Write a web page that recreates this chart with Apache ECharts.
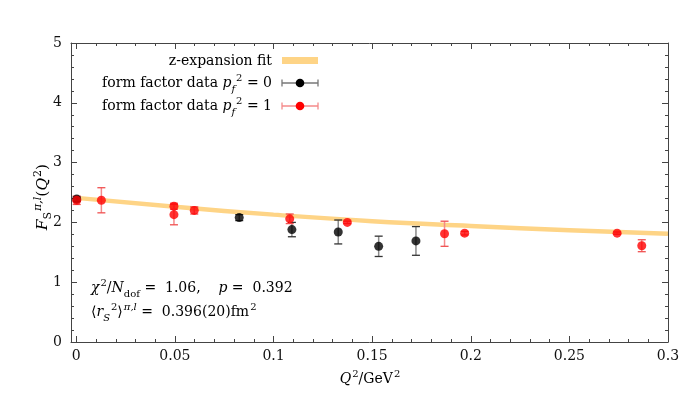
<!DOCTYPE html>
<html>
<head>
<meta charset="utf-8">
<script src="https://cdn.jsdelivr.net/npm/echarts@6/dist/echarts.min.js"></script>
<style>
  html, body { margin: 0; padding: 0; background: #fff; }
  #chart { width: 693px; height: 416px; }
</style>
</head>
<body>
<div id="chart"></div>
<script>
// 数据：p_f^2 = 0
const q2Set0 = [0.0002, 0.0826, 0.1093, 0.1328, 0.1533, 0.1722];
const ffSet0 = [2.39, 2.08, 1.88, 1.84, 1.60, 1.69];
const errSet0 = [0.04, 0.05, 0.12, 0.20, 0.17, 0.24];

// 数据：p_f^2 = 1
const q2Set1 = [0.0002, 0.0127, 0.0495, 0.0495, 0.0598, 0.1082, 0.1374, 0.1867, 0.1969, 0.2742, 0.2867];
const ffSet1 = [2.37, 2.37, 2.27, 2.13, 2.20, 2.06, 2.00, 1.81, 1.82, 1.82, 1.61];
const errSet1 = [0.07, 0.21, 0.05, 0.17, 0.06, 0.08, 0.02, 0.21, 0.03, 0.02, 0.10];

// z-expansion 拟合曲线
const fitQ2 = [0, 0.05, 0.1, 0.15, 0.2, 0.25, 0.3];
const fitVals = [2.41, 2.26, 2.13, 2.02, 1.94, 1.87, 1.81];

// 刻度
const xMajorTicks = [0, 0.05, 0.1, 0.15, 0.2, 0.25, 0.3];
const xMinorTicks = [0.01, 0.02, 0.03, 0.04, 0.06, 0.07, 0.08, 0.09, 0.11, 0.12, 0.13, 0.14,
  0.16, 0.17, 0.18, 0.19, 0.21, 0.22, 0.23, 0.24, 0.26, 0.27, 0.28, 0.29];

const FONT = '"DejaVu Serif", "Liberation Serif", serif';
const frameColor = '#444';
const xMin = -0.0027, xMax = 0.3;

const chart = echarts.init(document.getElementById('chart'));

const makeErrorBar = (color, capColor) => (params, api) => {
  const x = api.value(0), y = api.value(1), e = api.value(2);
  const top = api.coord([x, y + e]);
  const bot = api.coord([x, y - e]);
  const cap = 4;
  return {
    type: 'group',
    children: [
      { type: 'line', shape: { x1: top[0], y1: top[1], x2: bot[0], y2: bot[1] }, style: { stroke: color, lineWidth: 1.5 } },
      { type: 'line', shape: { x1: top[0] - cap, y1: top[1], x2: top[0] + cap, y2: top[1] }, style: { stroke: capColor, lineWidth: 1.3 } },
      { type: 'line', shape: { x1: bot[0] - cap, y1: bot[1], x2: bot[0] + cap, y2: bot[1] }, style: { stroke: capColor, lineWidth: 1.3 } }
    ]
  };
};

const zip3 = (a, b, c) => a.map((v, i) => [v, b[i], c[i]]);

const xAxisBase = (position, ticks, len, showLabel, showLine) => ({
  type: 'value', min: xMin, max: xMax, position,
  axisLine: { show: showLine, onZero: false, lineStyle: { color: frameColor, width: 1 } },
  axisTick: { show: true, inside: true, length: len, customValues: ticks, lineStyle: { color: frameColor } },
  axisLabel: showLabel
    ? { show: true, customValues: xMajorTicks, margin: 7, color: '#111', fontFamily: FONT, fontSize: 14 }
    : { show: false },
  splitLine: { show: false }
});

const yAxisBase = (position, showLabel) => ({
  type: 'value', min: 0, max: 5, interval: 1, position,
  axisLine: { show: true, onZero: false, lineStyle: { color: frameColor, width: 1 } },
  axisTick: { show: true, inside: true, length: 6, lineStyle: { color: frameColor } },
  minorTick: { show: true, splitNumber: 5, length: 3, lineStyle: { color: frameColor } },
  axisLabel: showLabel ? { show: true, margin: 9, color: '#111', fontFamily: FONT, fontSize: 14 } : { show: false },
  splitLine: { show: false }
});

const makeRich = (size) => {
  const small = Math.round(size * 0.72);
  return {
    r: { fontFamily: FONT, fontSize: size, color: '#111', lineHeight: 22, verticalAlign: 'middle' },
    i: { fontFamily: FONT, fontSize: size, fontStyle: 'italic', color: '#111', lineHeight: 22, verticalAlign: 'middle' },
    sup: { fontFamily: FONT, fontSize: small, color: '#111', lineHeight: 22, verticalAlign: 'top', padding: [1, 0, 0, 1] },
    supi: { fontFamily: FONT, fontSize: small, fontStyle: 'italic', color: '#111', lineHeight: 22, verticalAlign: 'top', padding: [1, 0, 0, 1] },
    sub: { fontFamily: FONT, fontSize: small, color: '#111', lineHeight: 22, verticalAlign: 'bottom' },
    subi: { fontFamily: FONT, fontSize: small, fontStyle: 'italic', color: '#111', lineHeight: 22, verticalAlign: 'bottom' }
  };
};

const textEl = (x, y, text, align, rotation, size) => ({
  type: 'text', x, y, rotation: rotation || 0, z: 10,
  style: { text, rich: makeRich(size || 14), align, verticalAlign: 'middle', textAlign: align, textVerticalAlign: 'middle' }
});

// 图例（自绘）
const legendX1 = 282, legendX2 = 318;
const legendErr = (y, lineColor, dotColor) => [
  { type: 'line', shape: { x1: legendX1, y1: y, x2: legendX2, y2: y }, style: { stroke: lineColor, lineWidth: 1.5 }, z: 10 },
  { type: 'line', shape: { x1: legendX1, y1: y - 3.5, x2: legendX1, y2: y + 3.5 }, style: { stroke: lineColor, lineWidth: 1.3 }, z: 10 },
  { type: 'line', shape: { x1: legendX2, y1: y - 3.5, x2: legendX2, y2: y + 3.5 }, style: { stroke: lineColor, lineWidth: 1.3 }, z: 10 },
  { type: 'circle', shape: { cx: (legendX1 + legendX2) / 2, cy: y, r: 4.3 }, style: { fill: dotColor }, z: 11 }
];

const option = {
  animation: false,
  backgroundColor: '#fff',
  grid: { left: 71, right: 25, top: 43, bottom: 74, show: false },
  xAxis: [
    xAxisBase('bottom', xMajorTicks, 6, true, true),
    xAxisBase('bottom', xMinorTicks, 3, false, false),
    xAxisBase('top', xMajorTicks, 6, false, true),
    xAxisBase('top', xMinorTicks, 3, false, false)
  ],
  yAxis: [yAxisBase('left', true), yAxisBase('right', false)],
  series: [
    {
      name: 'z-expansion fit', type: 'line', smooth: true, showSymbol: false,
      data: fitQ2.map((v, i) => [v, fitVals[i]]),
      lineStyle: { color: '#fed486', width: 4.5 }, z: 1
    },
    {
      type: 'custom', renderItem: makeErrorBar('#8a8a8a', '#333'),
      data: zip3(q2Set0, ffSet0, errSet0), encode: { x: 0, y: 1 }, z: 2
    },
    {
      type: 'custom', renderItem: makeErrorBar('#f58a8a', '#f05050'),
      data: zip3(q2Set1, ffSet1, errSet1), encode: { x: 0, y: 1 }, z: 2
    },
    {
      name: 'p0', type: 'scatter', symbolSize: 9,
      data: q2Set0.map((v, i) => [v, ffSet0[i]]),
      itemStyle: { color: '#000' }, z: 3
    },
    {
      name: 'p1', type: 'scatter', symbolSize: 9,
      data: q2Set1.map((v, i) => [v, ffSet1[i]]),
      itemStyle: { color: '#ff0000' }, z: 4
    }
  ],
  graphic: [
    // 轴标题
    textEl(370, 379, '{i|Q}{sup|2}{r|/GeV}{sup|2}', 'center'),
    textEl(43, 197, '{i|F}{sub|S}{supi|π,l}{r|(}{i|Q}{sup|2}{r|)}', 'center', Math.PI / 2, 15.5),
    // 图例
    textEl(272, 61, '{r|z-expansion fit}', 'right'),
    textEl(272, 83, '{r|form factor data }{i|p}{subi|f}{sup|2}{r| = 0}', 'right'),
    textEl(272, 106, '{r|form factor data }{i|p}{subi|f}{sup|2}{r| = 1}', 'right'),
    { type: 'rect', shape: { x: legendX1, y: 57, width: legendX2 - legendX1, height: 7 }, style: { fill: '#fed486' }, z: 10 },
    ...legendErr(83, '#777', '#000'),
    ...legendErr(106, '#f58a8a', '#ff0000'),
    // 拟合结果注释
    textEl(91, 288, '{i|χ}{sup|2}{r|/}{i|N}{sub|dof}{r| =  1.06,    }{i|p}{r| =  0.392}', 'left'),
    textEl(91, 312, '{r|⟨}{i|r}{subi|S}{sup|2}{r|⟩}{supi|π,l}{r| =  0.396(20)fm}{sup|2}', 'left')
  ]
};

chart.setOption(option);
</script>
</body>
</html>
